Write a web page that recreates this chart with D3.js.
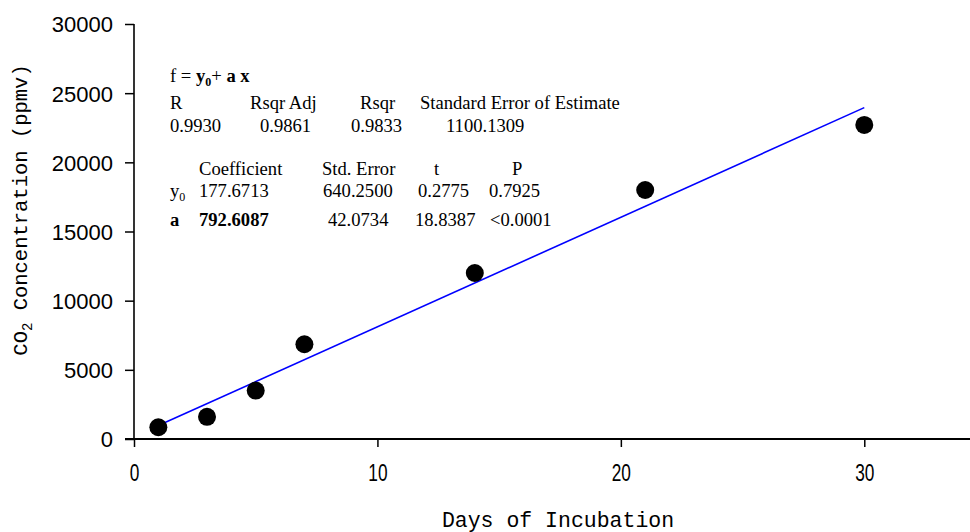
<!DOCTYPE html>
<html><head><meta charset="utf-8">
<script src="https://cdn.jsdelivr.net/npm/d3@7"></script>
<style>body{margin:0;background:#fff}svg{display:block}</style>
</head><body>
<svg id="c" width="970" height="532"></svg>
<script>
const days = [1, 3, 5, 7, 14, 21, 30];
const co2 = [850, 1600, 3500, 6850, 12000, 18000, 22700];
const fitY0 = 177.6713, fitA = 792.6087;
const fitRange = [1, 30];
const yTicks = [0, 5000, 10000, 15000, 20000, 25000, 30000];
const xTicks = [0, 10, 20, 30];
const xTitle = "Days of Incubation";
const yTitleParts = ["CO", "2", " Concentration (ppmv)"];

const svg = d3.select("#c");
const x = d3.scaleLinear().domain([0, 35]).range([134, 986]);
const y = d3.scaleLinear().domain([0, 30000]).range([439, 24]);

// axes
const yAxis = svg.append("g").attr("transform","translate(134,0)")
  .call(d3.axisLeft(y).tickValues(yTicks).tickSize(9).tickPadding(12).tickFormat(d3.format("d")));
yAxis.select(".domain").attr("d","M0,24V439").attr("stroke","#000").attr("stroke-width",1.6);
yAxis.selectAll(".tick line").attr("stroke-width",1.5);
yAxis.selectAll("text").attr("font-family","Liberation Sans, Arial, sans-serif").attr("font-size",22).attr("fill","#000").attr("dy","0.36em");

const xAxis = svg.append("g").attr("transform","translate(0,439)")
  .call(d3.axisBottom(x).tickValues(xTicks).tickSize(8).tickPadding(0));
xAxis.select(".domain").attr("d","M125,0H970").attr("stroke","#000").attr("stroke-width",2.2);
xAxis.selectAll(".tick line").attr("stroke-width",1.5);
xAxis.selectAll(".tick text").remove();
xAxis.selectAll(".tick").append("text")
  .attr("y",42).attr("text-anchor","middle")
  .attr("transform","scale(0.72,1)")
  .attr("font-family","Liberation Sans, Arial, sans-serif").attr("font-size",24).attr("fill","#000")
  .text(d=>d);

// axis titles
svg.append("text").attr("x",558).attr("y",527).attr("text-anchor","middle")
  .attr("font-family","Liberation Mono, monospace").attr("font-size",21.5).attr("fill","#000")
  .text(xTitle);
const yt = svg.append("text").attr("transform","translate(27,210) rotate(-90)").attr("text-anchor","middle")
  .attr("font-family","Liberation Mono, monospace").attr("font-size",20.5).attr("fill","#000");
yt.append("tspan").text(yTitleParts[0]);
yt.append("tspan").attr("font-size",14).attr("dy",5).text(yTitleParts[1]);
yt.append("tspan").attr("dy",-5).text(yTitleParts[2]);

// fit line
svg.append("line")
  .attr("x1",x(fitRange[0])).attr("y1",y(fitY0+fitA*fitRange[0]))
  .attr("x2",x(fitRange[1])).attr("y2",y(fitY0+fitA*fitRange[1]))
  .attr("stroke","#0000ff").attr("stroke-width",1.6);

// points
svg.selectAll("circle.pt").data(days.map((d,i)=>[d,co2[i]])).enter().append("circle")
  .attr("class","pt").attr("cx",d=>x(d[0])).attr("cy",d=>y(d[1])).attr("r",9).attr("fill","#000");

// stats text
const T = svg.append("g").attr("font-family","Liberation Serif, Times New Roman, serif").attr("font-size",18.6).attr("fill","#000");
function t(xp, yp, s, bold){ return T.append("text").attr("x",xp).attr("y",yp).attr("font-weight",bold?"bold":"normal").text(s); }
const eq = T.append("text").attr("x",170).attr("y",82);
eq.append("tspan").text("f = ");
eq.append("tspan").attr("font-weight","bold").text("y");
eq.append("tspan").attr("font-weight","bold").attr("font-size",12).attr("dy",4).text("0");
eq.append("tspan").attr("dy",-4).text("+ ");
eq.append("tspan").attr("font-weight","bold").text("a  x");
t(170,109,"R"); t(250,109,"Rsqr Adj"); t(360,109,"Rsqr"); t(420,109,"Standard Error of Estimate");
t(170,132,"0.9930"); t(260,132,"0.9861"); t(351,132,"0.9833"); t(446,132,"1100.1309");
t(199,175,"Coefficient"); t(322,175,"Std. Error"); t(434,175,"t"); t(512,175,"P");
const y0l = T.append("text").attr("x",170).attr("y",197);
y0l.append("tspan").text("y");
y0l.append("tspan").attr("font-size",12).attr("dy",4).text("0");
t(199,197,"177.6713"); t(323,197,"640.2500"); t(418,197,"0.2775"); t(489,197,"0.7925");
t(170,226,"a",true); t(199,226,"792.6087",true); t(328,226,"42.0734"); t(415,226,"18.8387"); t(490,226,"<0.0001");
</script>
</body></html>
